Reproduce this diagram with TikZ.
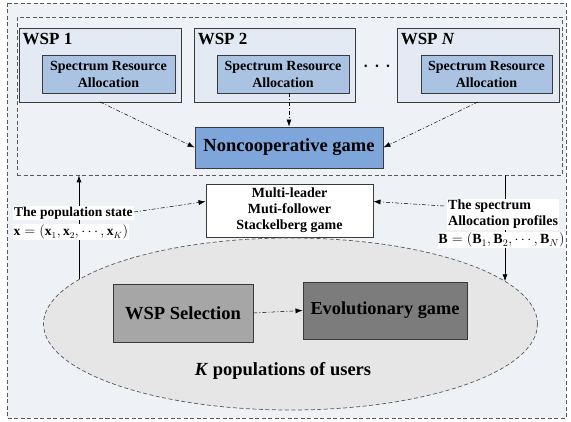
\documentclass[tikz,border=0pt]{standalone}
\usepackage{fontspec}
\setmainfont{Liberation Serif}
\usetikzlibrary{arrows.meta,fit,shapes.geometric}
\definecolor{paper}{HTML}{EEF2F6}
\definecolor{wspfill}{HTML}{E4EAF3}
\definecolor{srafill}{HTML}{AAC3E3}
\definecolor{gamefill}{HTML}{7EA6DA}
\definecolor{selfill}{HTML}{A6A6A6}
\definecolor{evofill}{HTML}{7C7C7C}
\definecolor{popfill}{HTML}{E6E6E6}
\definecolor{edge}{HTML}{3A3A3A}
\tikzset{
  x=1pt, y=-1pt,
  box/.style={draw=edge, line width=0.9pt, inner sep=0pt, font=\bfseries, align=center},
  wspbox/.style={box, fill=wspfill},
  srabox/.style={box, fill=srafill, font=\bfseries\fontsize{14}{17}\selectfont},
  tip/.style={-{Latex[length=7pt,width=5pt]}},
  dashdot/.style={tip, line width=0.5pt, dash pattern=on 4pt off 2pt on 1pt off 2pt},
  solidarrow/.style={tip, line width=0.7pt},
  frame/.style={draw=black!65, line width=0.7pt, dash pattern=on 4pt off 2.5pt},
  tag/.style={fill=white, inner sep=1pt, font=\bfseries\fontsize{14}{16}\selectfont},
  mathtag/.style={fill=white, inner sep=0.5pt, font=\bfseries\fontsize{13.5}{16}\selectfont}
}
\begin{document}
\begin{tikzpicture}
\useasboundingbox (0,0) rectangle (571,422);
% outer frame
\draw[frame, fill=paper] (7,3) rectangle (566,418);
% WSP group frame
\coordinate (g1) at (17,17);
\coordinate (g2) at (562,175);
\node[frame, fit=(g1)(g2), inner sep=0pt] (wspgroup) {};

% WSP boxes
\node[wspbox, minimum width=162pt, minimum height=74pt] (wsp1) at (100,65) {};
\node[wspbox, minimum width=161pt, minimum height=74pt] (wsp2) at (274.5,65) {};
\node[wspbox, minimum width=162pt, minimum height=74pt] (wspn) at (478,65) {};
\node[anchor=north west, inner sep=0pt, font=\bfseries\fontsize{17}{17}\selectfont] (l1) at ([shift={(4,5)}]wsp1.north west) {WSP 1};
\node[anchor=north west, inner sep=0pt, font=\bfseries\fontsize{17}{17}\selectfont] (l2) at ([shift={(4,5)}]wsp2.north west) {WSP 2};
\node[anchor=north west, inner sep=0pt, font=\bfseries\fontsize{17}{17}\selectfont] (ln) at ([shift={(4,5)}]wspn.north west) {WSP \textit{N}};
\node[srabox, minimum width=133pt, minimum height=38pt] (sra1) at (108.5,74) {Spectrum Resource\\Allocation};
\node[srabox, minimum width=132pt, minimum height=38pt] (sra2) at (283,74) {Spectrum Resource\\Allocation};
\node[srabox, minimum width=131pt, minimum height=38pt] (sran) at (486.5,74) {Spectrum Resource\\Allocation};
\node[font=\fontsize{24}{24}\selectfont, inner sep=0pt] (dots) at (377,67) {$\cdots$};

% noncooperative game
\node[box, fill=gamefill, minimum width=188pt, minimum height=41pt, font=\bfseries\fontsize{18.5}{20}\selectfont] (nc) at (289,147.5) {Noncooperative game};
\draw[dashdot] (100,102) -- (nc.west);
\draw[dashdot] (sra2.south -| nc.north) -- (nc.north);
\draw[dashdot] (478,102) -- (nc.east);

% Stackelberg game
\node[box, fill=white, minimum width=167pt, minimum height=53pt, font=\bfseries\fontsize{14}{16}\selectfont] (ml) at (289.5,210.5) {Multi-leader\\Muti-follower\\Stackelberg game};

% user populations
\node[frame, ellipse, fill=popfill, minimum width=494pt, minimum height=172pt, inner sep=0pt] (pop) at (290.5,324) {};
\node[box, fill=selfill, minimum width=140pt, minimum height=58pt, font=\bfseries\fontsize{18.5}{20}\selectfont] (sel) at (183,313) {WSP Selection};
\node[box, fill=evofill, minimum width=164pt, minimum height=57pt, font=\bfseries\fontsize{18.3}{20}\selectfont] (evo) at (385,310.5) {Evolutionary game};
\draw[dashdot] (sel.east) -- (evo.west);
\node[font=\bfseries\fontsize{18.5}{20}\selectfont, inner sep=0pt] (kpop) at (283,371) {\textit{K} populations of users};

% feedback links between the two levels
\coordinate (up) at (79,279.5);
\coordinate (down) at (505,281.3);
\draw[solidarrow] (up) -- (up |- wspgroup.south);
\draw[solidarrow] (down |- wspgroup.south) -- (down);

% population state (formula first, caption on top of it)
\node[mathtag, anchor=base west] (statemath) at (13,236)
  {$\textbf{x}=\Bigl(\textbf{x}_1,\textbf{x}_2,\cdots,\textbf{x}_K\Bigr)$};
\node[tag, anchor=north west, font=\bfseries\fontsize{13.5}{18}\selectfont] (state) at (13,206)
  {The population state};
% spectrum allocation profiles
\node[mathtag, font=\bfseries\fontsize{14}{16}\selectfont, anchor=base] (profilemath) at (501.5,244)
  {$\textbf{B}=\Bigl(\textbf{B}_1,\textbf{B}_2,\cdots,\textbf{B}_N\Bigr)$};
\node[tag, anchor=north west, align=left] (profile) at (447,199)
  {The spectrum\\Allocation profiles};
\draw[dashdot] ([shift={(0,6)}]state.north east) -- ([yshift=9pt]ml.west);
\draw[dashdot] ([shift={(-3,7)}]profile.north west) -- ([yshift=9pt]ml.east);
\end{tikzpicture}
\end{document}
